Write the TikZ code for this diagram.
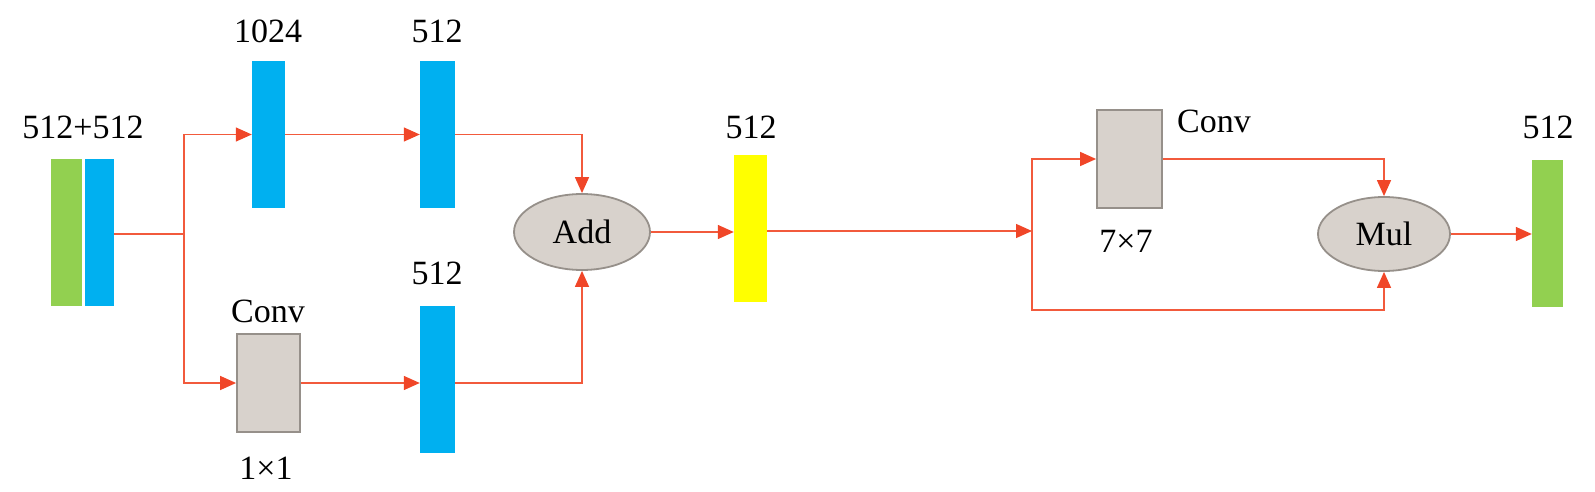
\documentclass[tikz,border=0pt]{standalone}
\usepackage{fontspec}
\setmainfont{Liberation Serif}
\usetikzlibrary{arrows.meta,shapes.geometric}
\definecolor{barblue}{RGB}{0,176,240}
\definecolor{bargreen}{RGB}{146,208,80}
\definecolor{baryellow}{RGB}{255,255,0}
\definecolor{opfill}{RGB}{216,210,204}
\definecolor{opdraw}{RGB}{150,144,138}
\definecolor{linkred}{RGB}{242,90,60}
\definecolor{tipred}{RGB}{240,70,40}
\tikzset{
  bar/.style={inner sep=0pt, minimum width=#1, minimum height=147pt},
  blue/.style={bar=#1, fill=barblue},
  convbox/.style={draw=opdraw, fill=opfill, line width=1.8pt, inner sep=0pt, minimum width=63pt, minimum height=98pt},
  op/.style={ellipse, draw=opdraw, fill=opfill, line width=1.8pt, inner sep=0pt, font=\fontsize{34}{37}\selectfont},
  lbl/.style={font=\fontsize{34}{37}\selectfont, inner sep=0pt},
  link/.style={draw=linkred, line width=1.4pt},
  arr/.style={link, -{Triangle[length=16pt,width=14pt,color=tipred]}}
}
\begin{document}
\begin{tikzpicture}[x=1pt,y=-1pt]
\useasboundingbox (0,0) rectangle (1595,492);
% bars
\node[bar=31pt, fill=bargreen] (ingreen) at (66.5,232.5) {};
\node[blue=29pt] (inblue) at (99.5,232.5) {};
\node[blue=33pt] (b1024) at (268.5,134.5) {};
\node[blue=35pt] (b512t) at (437.5,134.5) {};
\node[blue=35pt] (b512b) at (437.5,379) {};
\node[bar=33pt, fill=baryellow] (yel) at (750.5,228.5) {};
\node[bar=31pt, fill=bargreen] (outgreen) at (1547.5,233.5) {};
% ops
\node[convbox] (conv1) at (268.5,383) {};
\node[convbox, minimum width=65pt] (conv7) at (1129.5,159) {};
\node[op, minimum width=136pt, minimum height=76pt] (add) at (582,232) {Add};
\node[op, minimum width=132pt, minimum height=74pt] (mul) at (1384,234) {Mul};
% labels
\node[lbl] (l1) at (83,127) {512+512};
\node[lbl] (l2) at (268,31) {1024};
\node[lbl] (l3) at (437,31) {512};
\node[lbl] (l4) at (437,273) {512};
\node[lbl] (l5) at (751,127) {512};
\node[lbl] (l6) at (1548,127) {512};
\node[lbl] (l7) at (268,311) {Conv};
\node[lbl] (l8) at (266,468) {1×1};
\node[lbl] (l9) at (1214,121) {Conv};
\node[lbl] (l10) at (1126,241) {7×7};
% connectors
\coordinate (s1) at (184,234);
\coordinate (s2) at (1032,231);
\coordinate (c2) at (1384,310);
\draw[link] (inblue.east |- s1) -- (s1);
\draw[arr] (s1) |- (b1024.west);
\draw[arr] (s1) |- (conv1.west);
\draw[arr] (b1024.east) -- (b512t.west);
\draw[arr] (b512t.east) -| (add.north);
\draw[arr] (conv1.east) -- (b512b.west |- conv1.east);
\draw[arr] (b512b.east |- conv1.east) -| (add.south);
\draw[arr] (add.east) -- (yel.west |- add.east);
\draw[arr] (yel.east |- s2) -- (s2);
\draw[arr] (s2) |- (conv7.west);
\draw[arr] (s2) |- (c2) -- (mul.south);
\draw[arr] (conv7.east) -| (mul.north);
\draw[arr] (mul.east) -- (outgreen.west |- mul.east);
\end{tikzpicture}
\end{document}
